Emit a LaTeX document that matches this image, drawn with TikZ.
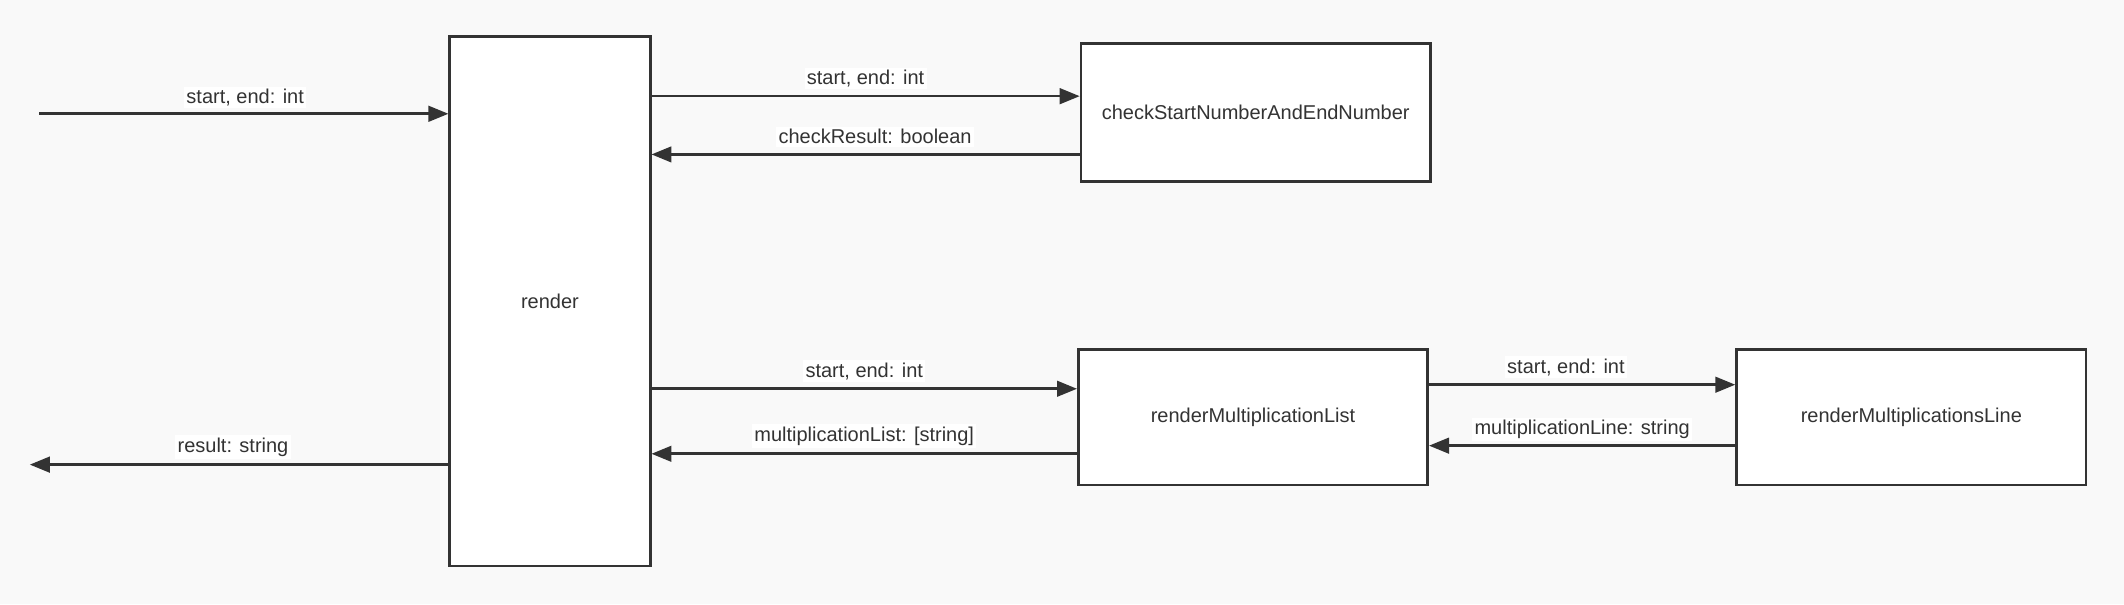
\documentclass[tikz,border=0pt]{standalone}
\usepackage{fontspec}
\setmainfont{Liberation Sans}
\usetikzlibrary{arrows.meta}
\definecolor{bgc}{HTML}{F9F9F9}
\definecolor{ink}{HTML}{333333}
\tikzset{
  fbox/.style={draw=ink, line width=1.1pt, fill=white, inner sep=0pt, text=ink, font=\fontsize{8.4}{10}\selectfont},
  conn/.style={draw=ink, line width=1.1pt, -{Triangle[length=2.95mm,width=2.3mm]}},
  lbl/.style={fill=white, inner sep=1pt, text=ink, font=\fontsize{8.4}{10}\selectfont}
}
\begin{document}
\begin{tikzpicture}[x=0.02cm,y=-0.02cm]
\fill[bgc] (0,0) rectangle (1568,446);
\useasboundingbox (0,0) rectangle (1568,446);

\node[fbox, minimum width=2.96cm, minimum height=7.82cm] (render) at (406,222.5) {render};
\node[fbox, minimum width=5.16cm, minimum height=2.04cm] (check) at (927,83) {checkStartNumberAndEndNumber};
\node[fbox, minimum width=5.16cm, minimum height=2.0cm] (rml) at (925,308) {renderMultiplicationList};
\node[fbox, minimum width=5.16cm, minimum height=2.0cm] (rmline) at (1411,308) {renderMultiplicationsLine};

\coordinate (inStart) at (29,84);
\coordinate (outEnd) at (22,343);
\coordinate (y1) at (0,71);
\coordinate (y2) at (0,114);
\coordinate (y3) at (0,287);
\coordinate (y4) at (0,335);
\coordinate (y5) at (0,284);
\coordinate (y6) at (0,329);

\draw[conn] (inStart) -- (render.west |- inStart);
\draw[conn] (render.west |- outEnd) -- (outEnd);
\draw[conn] (render.east |- y1) -- (check.west |- y1);
\draw[conn] (check.west |- y2) -- (render.east |- y2);
\draw[conn] (render.east |- y3) -- (rml.west |- y3);
\draw[conn] (rml.west |- y4) -- (render.east |- y4);
\draw[conn] (rml.east |- y5) -- (rmline.west |- y5);
\draw[conn] (rmline.west |- y6) -- (rml.east |- y6);

\node[lbl] (l1) at (181,72) {start, end: int};
\node[lbl] (l2) at (172,330) {result: string};
\node[lbl] (l3) at (639,58) {start, end: int};
\node[lbl] (l4) at (646,101) {checkResult: boolean};
\node[lbl] (l5) at (638,274) {start, end: int};
\node[lbl] (l6) at (638,322) {multiplicationList: [string]};
\node[lbl] (l7) at (1156,271) {start, end: int};
\node[lbl] (l8) at (1168,317) {multiplicationLine: string};
\end{tikzpicture}
\end{document}
